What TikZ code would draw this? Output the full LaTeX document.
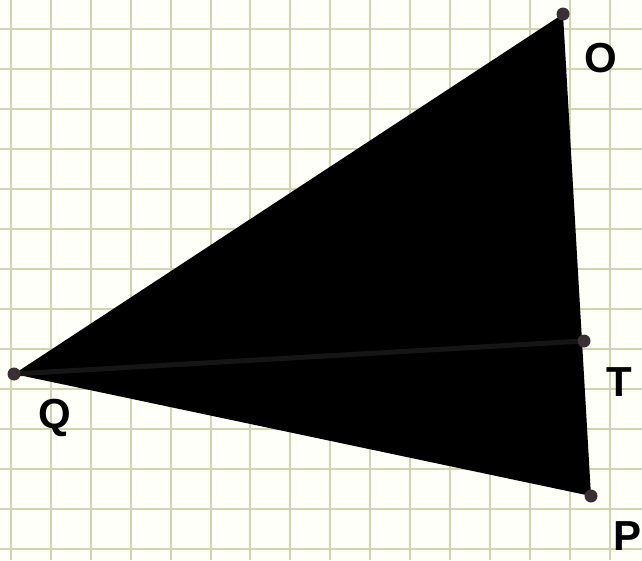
\documentclass[tikz,border=0pt]{standalone}
\usepackage{fontspec}
\setmainfont{Liberation Sans}
\definecolor{bgc}{RGB}{255,255,250}
\definecolor{gridc}{RGB}{210,212,175}
\definecolor{ptc}{RGB}{58,48,51}
\definecolor{segc}{RGB}{22,20,21}
\tikzset{
  pt/.style={circle,fill=ptc,inner sep=0pt,minimum size=13pt},
  lbl/.style={font=\fontsize{42}{42}\selectfont\bfseries,inner sep=0pt}
}
\begin{document}
\begin{tikzpicture}[x=1pt,y=-1pt]
\useasboundingbox (0,0) rectangle (642,560);
\fill[bgc] (0,0) rectangle (642,560);
\foreach \i in {0,...,16} {\draw[gridc,line width=2pt] ({11+39.9*\i},0) -- ({11+39.9*\i},560);}
\foreach \j in {0,...,14} {\draw[gridc,line width=2pt] (0,{29+40*\j}) -- (642,{29+40*\j});}
\coordinate (o) at (563,14);
\coordinate (t) at (584,341);
\coordinate (q) at (14,374);
\coordinate (p) at (591,496);
\fill[black] (o) -- (p) -- (q) -- cycle;
\draw[segc,line width=5pt] (q) -- (t);
\node[pt] (O) at (o) {};
\node[pt] (T) at (t) {};
\node[pt] (Q) at (q) {};
\node[pt] (P) at (p) {};
\node[lbl] (lO) at (601,58) {O};
\node[lbl] (lT) at (619,382) {T};
\node[lbl] (lQ) at (55,418) {Q};
\node[lbl] (lP) at (627,536) {P};
\end{tikzpicture}
\end{document}
